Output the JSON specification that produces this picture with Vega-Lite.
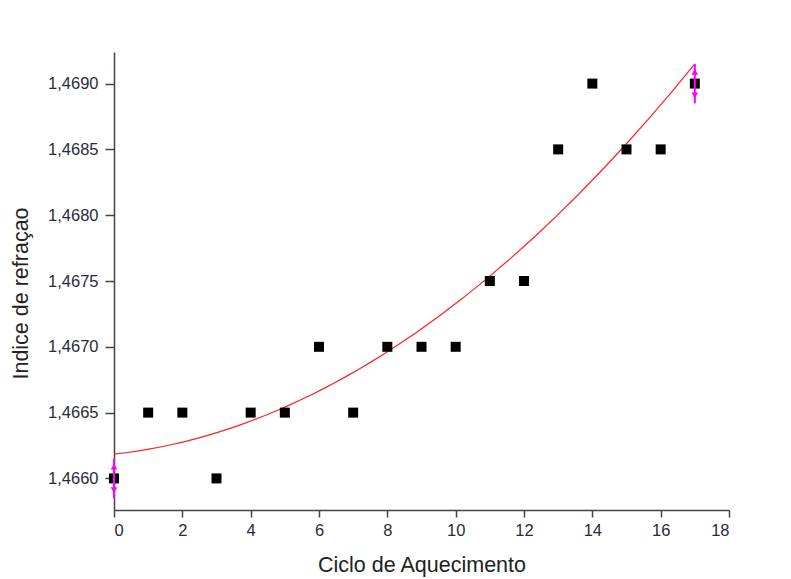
{
  "$schema": "https://vega.github.io/schema/vega-lite/v6.json",
  "autosize": "none",
  "width": 615,
  "height": 458,
  "padding": {"left": 114, "top": 52, "right": 62, "bottom": 69},
  "background": "white",
  "config": {
    "view": {"stroke": null},
    "locale": {"number": {"decimal": ",", "thousands": ".", "grouping": [3], "currency": ["", ""]}},
    "axis": {
      "grid": false,
      "domainColor": "#444444",
      "domainWidth": 1.5,
      "tickColor": "#444444",
      "tickWidth": 1.5,
      "labelFont": "Liberation Sans",
      "labelFontSize": 16.5,
      "labelColor": "#2a2a3a",
      "titleFont": "Liberation Sans",
      "titleFontSize": 21.5,
      "titleFontWeight": "normal",
      "titleColor": "#222222"
    }
  },
  "datasets": {
    "pts": [
      {"ciclo": 0, "indice": 1.4660},
      {"ciclo": 1, "indice": 1.4665},
      {"ciclo": 2, "indice": 1.4665},
      {"ciclo": 3, "indice": 1.4660},
      {"ciclo": 4, "indice": 1.4665},
      {"ciclo": 5, "indice": 1.4665},
      {"ciclo": 6, "indice": 1.4670},
      {"ciclo": 7, "indice": 1.4665},
      {"ciclo": 8, "indice": 1.4670},
      {"ciclo": 9, "indice": 1.4670},
      {"ciclo": 10, "indice": 1.4670},
      {"ciclo": 11, "indice": 1.4675},
      {"ciclo": 12, "indice": 1.4675},
      {"ciclo": 13, "indice": 1.4685},
      {"ciclo": 14, "indice": 1.4690},
      {"ciclo": 15, "indice": 1.4685},
      {"ciclo": 16, "indice": 1.4685},
      {"ciclo": 17, "indice": 1.4690}
    ],
    "arrows": [
      {"ciclo": 0, "lo": 1.46585, "hi": 1.46615, "tipLo": 1.46591, "tipHi": 1.46609},
      {"ciclo": 17, "lo": 1.46885, "hi": 1.46915, "tipLo": 1.46891, "tipHi": 1.46909}
    ]
  },
  "layer": [
    {
      "data": {"name": "pts"},
      "transform": [
        {"regression": "indice", "on": "ciclo", "method": "poly", "order": 2, "extent": [0, 17]}
      ],
      "mark": {"type": "line", "color": "#ff2020", "strokeWidth": 1.2},
      "encoding": {
        "x": {
          "field": "ciclo", "type": "quantitative",
          "scale": {"domain": [0, 18], "nice": false, "zero": false},
          "axis": {"values": [0, 2, 4, 6, 8, 10, 12, 14, 16, 18], "title": "Ciclo de Aquecimento", "tickSize": 7, "labelPadding": 5, "titlePadding": 16}
        },
        "y": {
          "field": "indice", "type": "quantitative",
          "scale": {"domain": [1.46576, 1.46924], "nice": false, "zero": false},
          "axis": {"values": [1.466, 1.4665, 1.467, 1.4675, 1.468, 1.4685, 1.469], "format": ".4f", "title": "Indice de refraçao", "tickSize": 9, "labelPadding": 7, "titlePadding": 15, "titleY": 241}
        }
      }
    },
    {
      "data": {"name": "pts"},
      "mark": {"type": "square", "color": "black", "size": 100, "opacity": 1, "filled": true},
      "encoding": {
        "x": {"field": "ciclo", "type": "quantitative"},
        "y": {"field": "indice", "type": "quantitative"}
      }
    },
    {
      "data": {"name": "arrows"},
      "mark": {"type": "rule", "color": "#ff00ff", "strokeWidth": 2},
      "encoding": {
        "x": {"field": "ciclo", "type": "quantitative"},
        "y": {"field": "lo", "type": "quantitative"},
        "y2": {"field": "hi"}
      }
    },
    {
      "data": {"name": "arrows"},
      "mark": {"type": "point", "shape": "triangle-up", "filled": true, "color": "#ff00ff", "size": 45, "opacity": 1},
      "encoding": {
        "x": {"field": "ciclo", "type": "quantitative"},
        "y": {"field": "tipHi", "type": "quantitative"}
      }
    },
    {
      "data": {"name": "arrows"},
      "mark": {"type": "point", "shape": "triangle-down", "filled": true, "color": "#ff00ff", "size": 45, "opacity": 1},
      "encoding": {
        "x": {"field": "ciclo", "type": "quantitative"},
        "y": {"field": "tipLo", "type": "quantitative"}
      }
    }
  ]
}
